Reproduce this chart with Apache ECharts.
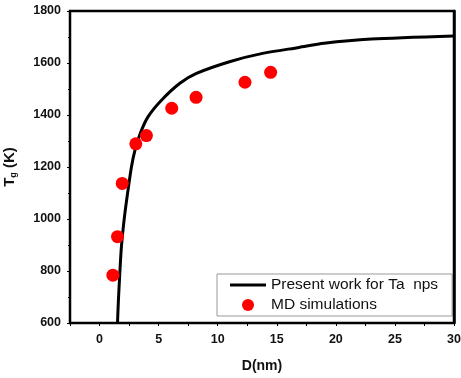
<!DOCTYPE html>
<html>
<head>
<meta charset="utf-8">
<script src="https://cdn.jsdelivr.net/npm/echarts@6/dist/echarts.min.js"></script>
<style>html,body{margin:0;padding:0;background:#fff;overflow:hidden;}#c{width:461px;height:378px;}</style>
</head>
<body>
<div id="c"></div>
<script>
// Present work curve (D in nm, Tg in K)
const curveD  = [1.52, 1.6, 1.83, 2.05, 2.3, 2.7, 3.0, 3.45, 4.1, 5.2, 6.8, 8.2, 11, 13.8, 16.9, 19, 23, 30];
const curveTg = [600, 690, 880, 985, 1075, 1200, 1265, 1330, 1393, 1455, 1522, 1560, 1605, 1637, 1660, 1676, 1692, 1704];
// MD simulation points
const mdD  = [1.13, 1.52, 1.92, 3.07, 3.97, 6.11, 8.17, 12.31, 14.48];
const mdTg = [784, 932, 1137, 1289, 1321, 1426, 1468, 1526, 1564];
// Axis ticks
const xLabels = [0, 5, 10, 15, 20, 25, 30];
const yLabels = [600, 800, 1000, 1200, 1400, 1600, 1800];

const chart = echarts.init(document.getElementById('c'), null, {renderer: 'canvas', width: 461, height: 378});
const font = 'Liberation Sans, Arial, sans-serif';
const xMin = -2.5, xMax = 30;
const yMin = yLabels[0], yMax = yLabels[yLabels.length - 1];
chart.setOption({
  animation: false,
  backgroundColor: '#fff',
  grid: {left: 70, right: 7, top: 11, bottom: 55, containLabel: false, outerBoundsMode: 'none'},
  xAxis: [{
    type: 'value', min: xMin, max: xMax, interval: 2.5,
    name: 'D(nm)', nameLocation: 'middle', nameGap: 36,
    nameTextStyle: {fontFamily: font, fontWeight: 'bold', fontSize: 14, color: '#111'},
    axisLine: {show: true, onZero: false, lineStyle: {color: '#000', width: 2}},
    axisTick: {show: true, inside: false, length: 3, lineStyle: {color: '#000', width: 1}},
    axisLabel: {
      fontFamily: font, fontWeight: 'bold', fontSize: 12.5, color: '#111', margin: 10,
      formatter: v => xLabels.indexOf(v) >= 0 ? String(v) : ''
    },
    splitLine: {show: false}
  }],
  yAxis: [{
    type: 'value', min: yMin, max: yMax, interval: 200,
    name: '{t|T}{s|g}{t| (K)}', nameLocation: 'middle', nameGap: 52, nameRotate: 90,
    nameTextStyle: {
      rich: {
        t: {fontFamily: font, fontWeight: 'bold', fontSize: 15, color: '#111'},
        s: {fontFamily: font, fontWeight: 'bold', fontSize: 9, color: '#111', verticalAlign: 'bottom', padding: [8, 0, 0, 0]}
      }
    },
    axisLine: {show: true, onZero: false, lineStyle: {color: '#000', width: 2}},
    axisTick: {show: true, length: 3, lineStyle: {color: '#000', width: 1}},
    minorTick: {show: true, splitNumber: 2, length: 2, lineStyle: {color: '#000', width: 1}},
    axisLabel: {fontFamily: font, fontWeight: 'bold', fontSize: 12.5, color: '#111', margin: 9, formatter: v => String(v)},
    splitLine: {show: false}
  }, {
    type: 'value', position: 'right', min: yMin, max: yMax,
    axisLine: {show: true, onZero: false, lineStyle: {color: '#000', width: 2.5}},
    axisTick: {show: false}, axisLabel: {show: false}, splitLine: {show: false}
  }],
  legend: {
    left: 217, top: 274, orient: 'vertical',
    padding: [3, 14, 3, 13], itemGap: 4, itemWidth: 36, itemHeight: 12,
    borderColor: '#999', borderWidth: 1, symbolKeepAspect: true,
    textStyle: {fontFamily: font, fontSize: 15.5, color: '#111'},
    data: [
      {name: 'Present work for Ta  nps', icon: 'path://M0,0 L36,0 L36,3 L0,3 Z', itemStyle: {color: '#000'}},
      {name: 'MD simulations', icon: 'circle', itemStyle: {color: '#ff0000', opacity: 1}}
    ]
  },
  series: [
    {
      name: 'Present work for Ta  nps', type: 'line', symbol: 'none', smooth: 0.25,
      lineStyle: {color: '#000', width: 3}, itemStyle: {color: '#000'},
      data: curveD.map((d, i) => [d, curveTg[i]]), z: 2
    },
    {
      name: 'MD simulations', type: 'scatter', symbol: 'circle', symbolSize: 13,
      itemStyle: {color: '#ff0000', opacity: 1},
      data: mdD.map((d, i) => [d, mdTg[i]]), z: 3
    }
  ]
});
// Plot frame from the library's own scales
const p0 = chart.convertToPixel({gridIndex: 0}, [xMin, yMax]);
const p1 = chart.convertToPixel({gridIndex: 0}, [xMax, yMin]);
chart.setOption({
  graphic: [{
    type: 'rect', silent: true, z: 10,
    shape: {x: p0[0], y: p0[1], width: p1[0] - p0[0], height: p1[1] - p0[1]},
    style: {fill: 'none', stroke: '#000', lineWidth: 2.5}
  }]
});
</script>
</body>
</html>
